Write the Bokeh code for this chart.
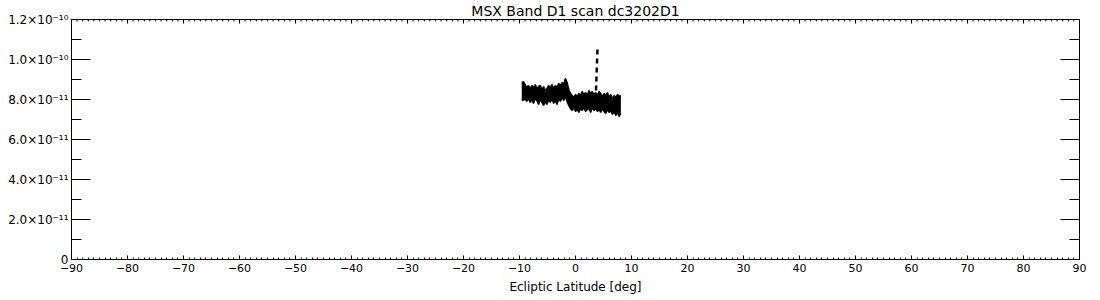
from bokeh.plotting import figure
from bokeh.models import (ColumnDataSource, Range1d, LinearAxis, FixedTicker,
                          CustomJSTickFormatter, Title)
from bokeh.embed import file_html
from bokeh.resources import INLINE

SCALE = 1e-11

# Ecliptic latitude samples [deg]
lat = [-9.6, -9.3, -9.0, -8.7, -8.4, -8.1, -7.8, -7.5, -7.2, -6.9,
       -6.6, -6.3, -6.0, -5.7, -5.4, -5.1, -4.8, -4.5, -4.2, -3.9,
       -3.6, -3.3, -3.0, -2.7, -2.4, -2.1, -1.8, -1.5, -1.2, -0.9,
       -0.6, -0.3, 0.0, 0.3, 0.6, 0.9, 1.2, 1.5, 1.8, 2.1,
       2.4, 2.7, 3.0, 3.3, 3.6, 3.9, 4.2, 4.5, 4.8, 5.1,
       5.4, 5.7, 6.0, 6.3, 6.6, 6.9, 7.2, 7.5, 7.8, 8.1]
# upper / lower envelope of the noisy scan (units of 1e-11)
flux_hi = [8.80, 8.90, 8.75, 8.60, 8.70, 8.55, 8.70, 8.60, 8.75, 8.55,
           8.65, 8.70, 8.50, 8.65, 8.45, 8.55, 8.70, 8.60, 8.75, 8.55,
           8.70, 8.60, 8.80, 8.70, 8.85, 8.75, 9.05, 8.85, 8.50, 8.30,
           8.20, 8.10, 8.25, 8.15, 8.30, 8.20, 8.40, 8.25, 8.35, 8.20,
           8.45, 8.30, 8.40, 8.25, 8.35, 8.20, 8.40, 8.30, 8.15, 8.30,
           8.20, 8.35, 8.10, 8.25, 8.05, 8.20, 8.10, 8.25, 8.15, 8.20]
flux_lo = [8.00, 7.95, 8.05, 7.90, 8.05, 7.85, 8.00, 7.80, 8.05, 7.95,
           7.75, 8.00, 7.85, 7.70, 7.90, 7.75, 8.00, 7.85, 8.05, 7.80,
           7.95, 7.75, 8.05, 7.90, 8.10, 7.95, 8.15, 7.90, 7.70, 7.55,
           7.45, 7.60, 7.40, 7.50, 7.35, 7.55, 7.45, 7.60, 7.40, 7.50,
           7.55, 7.35, 7.60, 7.45, 7.55, 7.40, 7.50, 7.35, 7.55, 7.40,
           7.30, 7.50, 7.35, 7.45, 7.25, 7.40, 7.20, 7.35, 7.15, 7.30]
# spike
spike_lat = [3.60, 3.95]
spike_flux = [8.00, 10.70]

x_ticks = [-90, -80, -70, -60, -50, -40, -30, -20, -10, 0,
           10, 20, 30, 40, 50, 60, 70, 80, 90]
x_tick_labels = ["\u221290", "\u221280", "\u221270", "\u221260", "\u221250",
                 "\u221240", "\u221230", "\u221220", "\u221210", "0",
                 "10", "20", "30", "40", "50", "60", "70", "80", "90"]
y_ticks = [0, 2e-11, 4e-11, 6e-11, 8e-11, 1.0e-10, 1.2e-10]
y_tick_labels = ["0", "2.0\u00d710\u207b\u00b9\u00b9", "4.0\u00d710\u207b\u00b9\u00b9",
                 "6.0\u00d710\u207b\u00b9\u00b9", "8.0\u00d710\u207b\u00b9\u00b9",
                 "1.0\u00d710\u207b\u00b9\u2070", "1.2\u00d710\u207b\u00b9\u2070"]

FONT = "DejaVu Sans"
X0, X1 = -90, 90
Y0, Y1 = 0, 1.2e-10
FRAME_W, FRAME_H = 1008, 240   # frame size in pixels

src = ColumnDataSource(dict(
    lat=lat,
    hi=[v * SCALE for v in flux_hi],
    lo=[v * SCALE for v in flux_lo],
))
spike_src = ColumnDataSource(dict(lat=spike_lat, f=[v * SCALE for v in spike_flux]))

p = figure(width=1100, height=300, output_backend="svg", toolbar_location=None,
           x_range=Range1d(X0, X1), y_range=Range1d(Y0, Y1),
           x_axis_location=None, y_axis_location=None,
           min_border_left=71, min_border_right=21,
           min_border_top=19, min_border_bottom=41)
p.grid.visible = False
p.outline_line_color = "black"
p.outline_line_width = 1
p.background_fill_color = "white"
p.border_fill_color = "white"

x_minor = [float(v + d) for v in x_ticks[:-1] for d in range(1, 10)]
y_minor = [v * SCALE for v in range(0, 13)]

xt = FixedTicker(ticks=x_ticks, minor_ticks=x_minor)
yt = FixedTicker(ticks=y_ticks, minor_ticks=y_minor)

xfmt = CustomJSTickFormatter(args=dict(vals=x_ticks, labs=x_tick_labels), code="""
for (let i = 0; i < vals.length; i++) { if (Math.abs(tick - vals[i]) < 1e-6) return labs[i]; }
return '';
""")
yfmt = CustomJSTickFormatter(args=dict(vals=y_ticks, labs=y_tick_labels), code="""
for (let i = 0; i < vals.length; i++) { if (Math.abs(tick - vals[i]) < 1e-13) return labs[i]; }
return '';
""")


def style(ax, maj, mnr):
    ax.axis_line_color = "black"
    ax.major_tick_line_color = "black"
    ax.minor_tick_line_color = "black"
    ax.major_tick_in = maj
    ax.major_tick_out = 0
    ax.minor_tick_in = mnr
    ax.minor_tick_out = 0
    ax.major_label_text_font = FONT
    ax.major_label_text_color = "black"


xb = LinearAxis(ticker=xt, formatter=xfmt, axis_label="Ecliptic Latitude [deg]")
style(xb, 4, 2)
xb.major_label_text_font_size = "11px"
xb.major_label_standoff = 4
xb.axis_label_text_font = FONT
xb.axis_label_text_font_size = "12px"
xb.axis_label_text_font_style = "normal"
xb.axis_label_text_color = "black"
xb.axis_label_standoff = 5
p.add_layout(xb, "below")

yl = LinearAxis(ticker=yt, formatter=yfmt)
style(yl, 19, 10)
yl.major_label_text_font_size = "12px"
yl.major_label_standoff = 3
p.add_layout(yl, "left")

# mirrored tick marks on the top and right frame edges (IDL style)
px_x = (X1 - X0) / FRAME_W
px_y = (Y1 - Y0) / FRAME_H
top = ColumnDataSource(dict(
    x=[float(v) for v in x_ticks] + x_minor,
    y0=[Y1] * (len(x_ticks) + len(x_minor)),
    y1=[Y1 - 4 * px_y] * len(x_ticks) + [Y1 - 2 * px_y] * len(x_minor),
))
p.segment(x0="x", y0="y0", x1="x", y1="y1", source=top, line_color="black", line_width=1)
right = ColumnDataSource(dict(
    y=list(y_ticks) + y_minor,
    x0=[X1] * (len(y_ticks) + len(y_minor)),
    x1=[X1 - 19 * px_x] * len(y_ticks) + [X1 - 10 * px_x] * len(y_minor),
))
p.segment(x0="x0", y0="y", x1="x1", y1="y", source=right, line_color="black", line_width=1)

p.title = Title(text="MSX Band D1 scan dc3202D1", align="center",
                text_font=FONT, text_font_size="14px", text_font_style="normal",
                text_color="black", standoff=1, offset=0)

p.varea(x="lat", y1="lo", y2="hi", source=src, fill_color="black")
p.line(x="lat", y="hi", source=src, line_color="black", line_width=1.5)
p.line(x="lat", y="lo", source=src, line_color="black", line_width=1.5)
p.line(x="lat", y="f", source=spike_src, line_color="black", line_width=2.5,
       line_dash="5 4")

open("out.html", "w").write(file_html(p, INLINE))
